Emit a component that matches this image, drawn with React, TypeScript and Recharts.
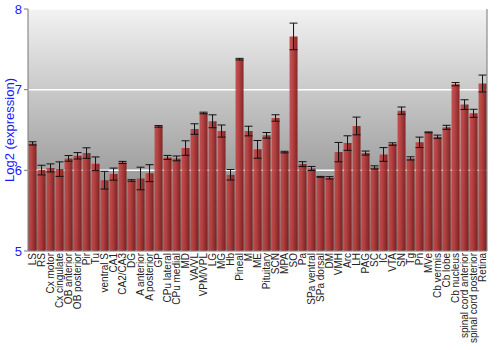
import React from 'react';
import { BarChart, Bar, XAxis, YAxis, CartesianGrid, ErrorBar } from 'recharts';

const regions = [
  'LS', 'RS', 'Cx motor', 'Cx cingulate', 'OB anterior', 'OB posterior', 'Pir', 'Tu', 'ventral S', 'CA1',
  'CA2/CA3', 'DG', 'A anterior', 'A posterior', 'GP', 'CPu lateral', 'CPu medial', 'MD', 'VA/VL', 'VPM/VPL',
  'LG', 'MG', 'Hb', 'Pineal', 'M', 'ME', 'Pituitary', 'SCN', 'MPA', 'SO',
  'Pa', 'SPa ventral', 'SPa dorsal', 'DM', 'VMH', 'Arc', 'LH', 'PAG', 'SC', 'IC',
  'VTA', 'SN', 'Tg', 'Pn', 'MVe', 'Cb vermis', 'Cb lobe', 'Cb nucleus', 'spinal cord anterior', 'spinal cord posterior',
  'Retina',
];

const expression = [
  6.334, 6.003, 6.03, 6.015, 6.148, 6.18, 6.214, 6.081, 5.878, 5.953,
  6.098, 5.874, 5.899, 5.965, 6.545, 6.16, 6.148, 6.276, 6.512, 6.711,
  6.608, 6.487, 5.945, 7.378, 6.487, 6.26, 6.434, 6.649, 6.226, 7.66,
  6.077, 6.023, 5.92, 5.907, 6.226, 6.338, 6.55, 6.214, 6.036, 6.197,
  6.326, 6.74, 6.148, 6.347, 6.471, 6.417, 6.533, 7.068, 6.815, 6.707,
  7.076,
];

const errors = [
  0.02, 0.06, 0.05, 0.09, 0.035, 0.04, 0.065, 0.085, 0.11, 0.075,
  0.013, 0.01, 0.14, 0.105, 0.01, 0.025, 0.03, 0.09, 0.065, 0.01,
  0.08, 0.075, 0.065, 0.01, 0.06, 0.11, 0.035, 0.04, 0.01, 0.165,
  0.03, 0.025, 0.005, 0.015, 0.12, 0.09, 0.11, 0.025, 0.02, 0.085,
  0.015, 0.045, 0.02, 0.065, 0.005, 0.02, 0.025, 0.02, 0.06, 0.05,
  0.105,
];

const yTicks = [5, 6, 7, 8];
const yLabel = 'Log2 (expression)';

const data = regions.map((region, i) => ({ region, value: expression[i], err: errors[i] }));

const FONT = '"Liberation Sans", Arial, sans-serif';

const XTick = (props: any) => {
  const { x, y, payload } = props;
  return (
    <text
      transform={`translate(${x},${y}) rotate(-90)`}
      textAnchor="end"
      dominantBaseline="central"
      fontSize={10}
      fill="#222"
      fontFamily={FONT}
    >
      {payload.value}
    </text>
  );
};

export default function App() {
  return (
    <div style={{ position: 'absolute', left: 0, top: 0, width: 500, height: 350, background: '#fff' }}>
      <BarChart
        width={500}
        height={350}
        data={data}
        margin={{ top: 9, right: 0, left: 0, bottom: 0 }}
        barCategoryGap="6%"
      >
        <defs>
          <linearGradient id="bgGrad" x1="0" y1="0" x2="0" y2="1">
            <stop offset="0%" stopColor="#f2f2f2" />
            <stop offset="100%" stopColor="#787878" />
          </linearGradient>
          <linearGradient id="barGrad" x1="0" y1="0" x2="1" y2="0">
            <stop offset="0%" stopColor="#c44444" />
            <stop offset="35%" stopColor="#b83838" />
            <stop offset="100%" stopColor="#7a1616" />
          </linearGradient>
        </defs>
        <CartesianGrid vertical={false} stroke="#ffffff" strokeWidth={1.5} fill="url(#bgGrad)" fillOpacity={1} />
        <XAxis
          dataKey="region"
          interval={0}
          height={99}
          tick={<XTick />}
          tickLine={false}
          tickSize={0}
          tickMargin={2}
          axisLine={{ stroke: '#777' }}
        />
        <XAxis
          xAxisId="top"
          dataKey="region"
          orientation="top"
          height={0}
          tick={false}
          tickLine={false}
          axisLine={{ stroke: '#777' }}
        />
        <YAxis
          domain={[5, 8]}
          ticks={yTicks}
          width={28}
          allowDataOverflow
          tick={{ fill: '#1a1aff', fontSize: 13, fontFamily: FONT }}
          tickLine={{ stroke: '#777' }}
          tickSize={4}
          tickMargin={2}
          axisLine={{ stroke: '#777' }}
        />
        <YAxis
          yAxisId="right"
          orientation="right"
          domain={[5, 8]}
          ticks={yTicks}
          width={13}
          tick={{ fill: '#1a1aff', fontSize: 13, fontFamily: FONT }}
          tickLine={{ stroke: '#777' }}
          tickSize={4}
          tickMargin={1}
          axisLine={{ stroke: '#777' }}
        />
        <Bar dataKey="value" fill="url(#barGrad)" fillOpacity={0.9} isAnimationActive={false}>
          <ErrorBar dataKey="err" width={4} stroke="#111" strokeWidth={1} />
        </Bar>
        <text
          transform="translate(9,130) rotate(-90)"
          textAnchor="middle"
          dominantBaseline="central"
          fontSize={13}
          fill="#1a1aff"
          fontFamily={FONT}
        >
          {yLabel}
        </text>
      </BarChart>
    </div>
  );
}
